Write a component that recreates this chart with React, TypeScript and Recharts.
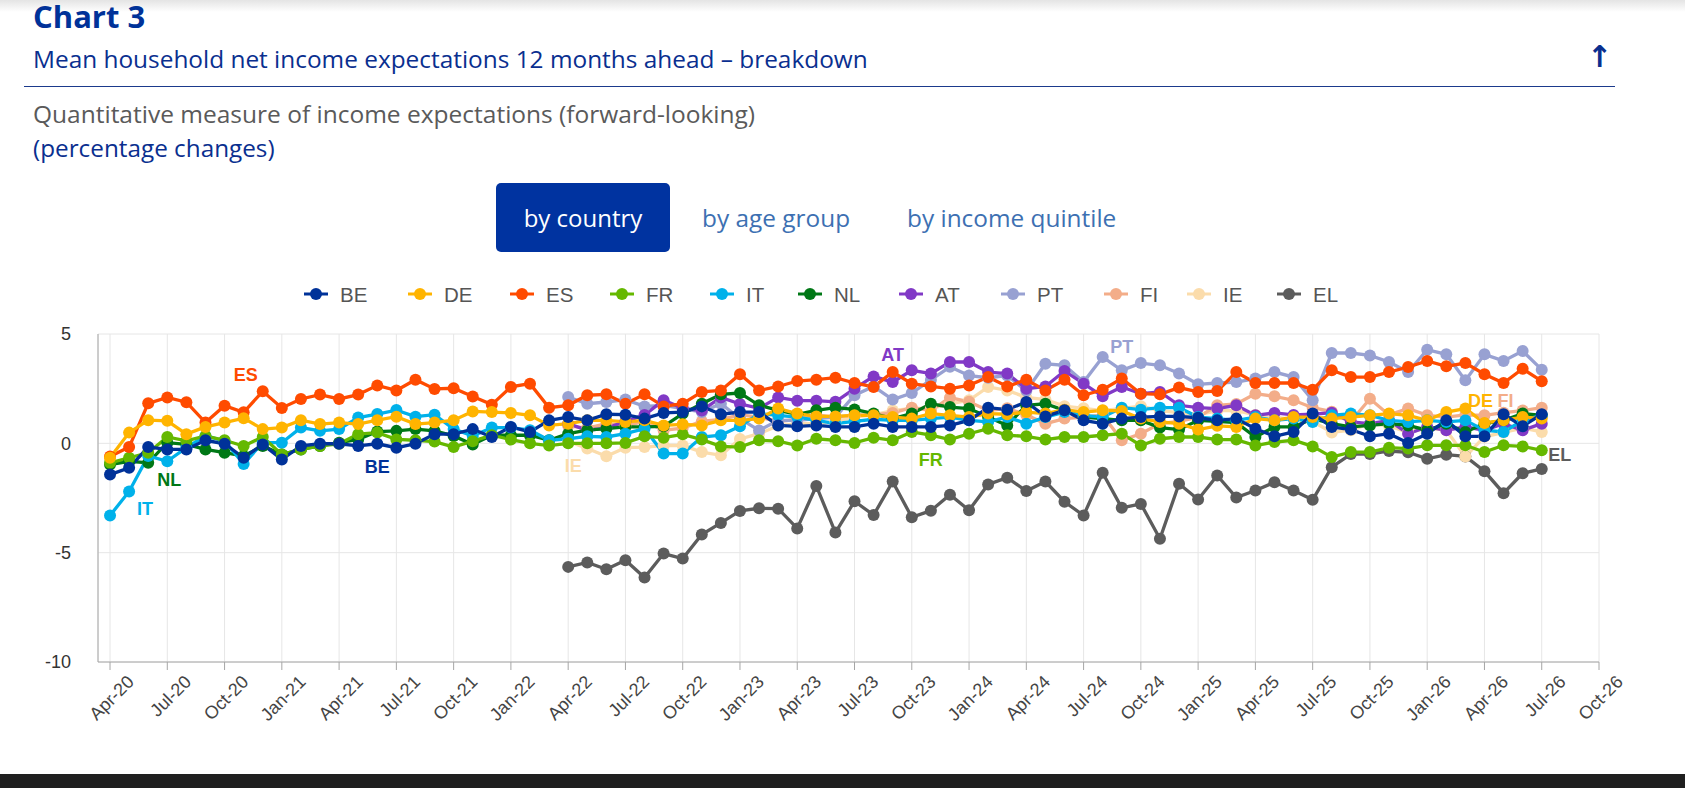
import React from "react";
import { LineChart, Line, XAxis, YAxis, CartesianGrid, LabelList } from "recharts";

// quarter tick labels, one every 3 months starting Apr-20 (month index 0)
const tickLabels = [
  "Apr-20", "Jul-20", "Oct-20", "Jan-21", "Apr-21", "Jul-21", "Oct-21", "Jan-22", "Apr-22",
  "Jul-22", "Oct-22", "Jan-23", "Apr-23", "Jul-23", "Oct-23", "Jan-24", "Apr-24", "Jul-24",
  "Oct-24", "Jan-25", "Apr-25", "Jul-25", "Oct-25", "Jan-26", "Apr-26", "Jul-26", "Oct-26",
];
const tickPositions = tickLabels.map((_, k) => k * 3);
const yTicks = [-10, -5, 0, 5];

// monthly values, Apr-20 .. Jul-26 (76 months)
const BE = [
  -1.43, -1.12, -0.17, -0.28, -0.28, 0.14, -0.02, -0.66, -0.05, -0.74, -0.12, -0.02, -0.02, -0.12, -0.02, -0.2,
  -0.02, 0.42, 0.42, 0.65, 0.29, 0.75, 0.52, 1.05, 1.2, 1.05, 1.33, 1.31, 1.13, 1.39, 1.43, 1.69,
  1.33, 1.43, 1.43, 0.82, 0.78, 0.82, 0.75, 0.75, 0.9, 0.75, 0.75, 0.75, 0.82, 1.05, 1.63, 1.54,
  1.89, 1.23, 1.51, 1.05, 0.9, 1.13, 1.2, 1.23, 1.23, 1.17, 1.05, 1.13, 0.67, 0.32, 0.52, 1.36,
  0.75, 0.63, 0.32, 0.44, 0.02, 0.44, 1.05, 0.32, 0.32, 1.33, 0.78, 1.33,
];
const DE = [
  -0.66, 0.49, 1.06, 1.03, 0.42, 0.75, 0.95, 1.15, 0.65, 0.72, 1.06, 0.88, 0.95, 0.88, 1.06, 1.22,
  0.88, 0.95, 1.06, 1.46, 1.43, 1.39, 1.28, 0.82, 0.9, 1.05, 1.05, 0.98, 1.05, 0.82, 0.87, 0.82,
  1.05, 1.05, 1.13, 1.59, 1.36, 1.23, 1.23, 1.28, 1.28, 1.2, 1.13, 1.36, 1.28, 1.2, 1.36, 1.33,
  1.43, 1.36, 1.54, 1.43, 1.51, 1.48, 1.13, 0.98, 0.9, 0.63, 0.8, 0.75, 1.13, 1.05, 1.2, 1.2,
  1.13, 1.2, 1.28, 1.36, 1.28, 1.05, 1.43, 1.59, 0.93, 1.05, 1.2, 1.13,
];
const ES = [
  -0.6, -0.17, 1.83, 2.1, 1.88, 0.95, 1.72, 1.42, 2.38, 1.62, 2.03, 2.23, 2.03, 2.23, 2.65, 2.42,
  2.91, 2.49, 2.52, 2.14, 1.77, 2.58, 2.73, 1.63, 1.74, 2.2, 2.24, 1.81, 2.24, 1.69, 1.81, 2.35,
  2.42, 3.16, 2.42, 2.6, 2.85, 2.91, 3.0, 2.76, 2.58, 3.26, 2.73, 2.6, 2.5, 2.65, 3.03, 2.6,
  2.91, 2.42, 2.91, 2.2, 2.45, 2.96, 2.27, 2.24, 2.55, 2.35, 2.39, 3.26, 2.76, 2.76, 2.76, 2.45,
  3.34, 3.03, 3.03, 3.26, 3.49, 3.77, 3.52, 3.67, 3.16, 2.76, 3.41, 2.84,
];
const FR = [
  -0.89, -0.66, -0.43, 0.29, 0.11, 0.34, 0.14, -0.12, 0.29, -0.51, -0.28, -0.12, -0.02, 0.42, 0.49, 0.18,
  0.14, 0.08, -0.17, 0.1, 0.37, 0.17, 0.0, -0.1, 0.0, 0.0, 0.0, 0.02, 0.32, 0.26, 0.41, 0.17,
  -0.14, -0.17, 0.14, 0.1, -0.1, 0.21, 0.14, 0.02, 0.26, 0.14, 0.52, 0.37, 0.17, 0.44, 0.67, 0.37,
  0.32, 0.17, 0.29, 0.29, 0.37, 0.44, -0.1, 0.21, 0.29, 0.29, 0.17, 0.17, -0.1, 0.06, 0.14, -0.14,
  -0.63, -0.4, -0.4, -0.2, -0.24, -0.09, -0.09, -0.09, -0.4, -0.09, -0.14, -0.32,
];
const IT = [
  -3.3, -2.2, -0.58, -0.82, -0.2, 0.34, 0.11, -0.94, 0.03, 0.03, 0.72, 0.57, 0.65, 1.18, 1.34, 1.52,
  1.22, 1.31, 0.65, 0.34, 0.72, 0.72, 0.6, 0.14, 0.21, 0.32, 0.29, 0.44, 0.67, -0.47, -0.47, 0.29,
  0.37, 0.78, 1.36, 1.28, 1.2, 1.05, 0.9, 1.0, 1.1, 1.05, 1.05, 1.13, 1.2, 1.05, 0.98, 1.2,
  0.9, 1.2, 1.43, 1.28, 1.2, 1.63, 1.54, 1.63, 1.63, 1.2, 1.13, 1.05, 1.2, 1.05, 1.13, 0.98,
  1.28, 1.36, 1.28, 1.05, 0.98, 1.05, 0.98, 1.05, 0.6, 0.52, 1.05, 1.28,
];
const NL = [
  -0.97, -0.82, -0.89, 0.03, -0.05, -0.28, -0.43, -0.58, -0.12, -0.51, -0.28, -0.12, 0.03, 0.18, 0.54, 0.57,
  0.65, 0.57, 0.34, -0.05, 0.37, 0.37, 0.37, 0.14, 0.44, 0.6, 0.67, 0.75, 0.75, 0.78, 1.36, 1.81,
  2.24, 2.3, 1.74, 1.51, 1.33, 1.51, 1.63, 1.55, 1.36, 1.13, 1.36, 1.81, 1.66, 1.59, 1.2, 0.82,
  1.74, 1.81, 1.51, 1.2, 1.13, 1.05, 1.05, 0.72, 0.63, 1.05, 1.0, 0.95, 0.29, 0.75, 0.75, 1.13,
  0.9, 0.75, 0.82, 0.9, 0.82, 0.6, 0.9, 0.52, 0.9, 1.05, 1.36, 1.28,
];
// series that start in Apr-22
const noData = [
  null, null, null, null, null, null, null, null, null, null, null, null,
  null, null, null, null, null, null, null, null, null, null, null, null,
];
const AT = [
  ...noData,
  0.9, 0.6, 0.7, 1.0, 1.3, 1.97, 1.6, 1.5, 2.1, 1.8, 1.6, 2.1, 1.95, 1.95, 1.9, 2.5,
  3.06, 2.8, 3.34, 3.19, 3.72, 3.72, 3.26, 3.19, 2.5, 2.6, 3.31, 2.73, 2.15, 2.58, 2.27, 2.35,
  1.74, 1.63, 1.59, 1.74, 1.28, 1.39, 1.3, 1.33, 1.4, 0.98, 0.9, 1.05, 0.44, 0.75, 0.6, 0.75,
  0.6, 0.9, 0.6, 0.9,
];
const PT = [
  ...noData,
  2.12, 1.81, 1.89, 2.0, 1.69, 1.74, 1.59, 1.43, 1.81, 1.13, 0.59, 1.05, 1.05, 1.13, 1.2, 2.2,
  2.6, 2.0, 2.3, 2.9, 3.5, 3.1, 3.0, 3.1, 2.4, 3.64, 3.57, 2.8, 3.95, 3.34, 3.67, 3.57,
  3.19, 2.7, 2.76, 2.8, 2.96, 3.26, 3.03, 1.97, 4.13, 4.13, 4.02, 3.72, 3.26, 4.28, 4.07, 2.88,
  4.07, 3.77, 4.22, 3.37,
];
const FI = [
  ...noData,
  0.8, 0.7, 0.9, 0.8, 1.0, 0.6, 0.7, 1.0, 1.1, 1.3, 1.2, 1.0, 1.1, 1.3, 1.2, 1.3,
  1.3, 1.39, 1.63, 1.5, 2.09, 1.9, 1.5, 1.6, 1.3, 0.9, 1.13, 1.2, 1.3, 0.14, 0.44, 0.9,
  1.0, 1.2, 1.74, 1.8, 2.27, 2.15, 1.97, 1.63, 1.45, 1.0, 2.04, 1.3, 1.59, 1.28, 1.2, 1.3,
  1.28, 1.4, 1.5, 1.63,
];
const IE = [
  ...noData,
  0.1, -0.24, -0.59, -0.2, -0.17, -0.1, -0.1, -0.4, -0.55, 0.2, 0.44, 0.8, 0.9, 0.9, 1.0, 1.2,
  1.3, 1.5, 1.6, 1.6, 1.8, 1.97, 2.58, 2.42, 2.1, 2.0, 1.7, 1.6, 1.5, 1.6, 1.7, 1.5,
  1.4, 1.3, 1.5, 1.5, 1.3, 1.2, 1.1, 1.0, 0.5, 0.6, 0.9, 0.8, 0.5, 0.7, 0.6, -0.6,
  0.3, 0.5, 0.7, 0.52,
];
const EL = [
  ...noData,
  -5.65, -5.45, -5.76, -5.35, -6.14, -5.04, -5.27, -4.17, -3.64, -3.09, -2.97, -2.99, -3.89, -1.95, -4.08, -2.65,
  -3.28, -1.75, -3.38, -3.08, -2.35, -3.06, -1.88, -1.57, -2.18, -1.75, -2.67, -3.3, -1.35, -2.95, -2.77, -4.36,
  -1.85, -2.57, -1.47, -2.48, -2.16, -1.78, -2.16, -2.58, -1.09, -0.49, -0.49, -0.35, -0.41, -0.71, -0.52, -0.6,
  -1.28, -2.28, -1.37, -1.17,
];

const seriesValues: Record<string, (number | null)[]> = { BE, DE, ES, FR, IT, NL, AT, PT, FI, IE, EL };

const series = [
  { key: "BE", color: "#003299", labelAt: 14, dx: 0, dy: 23 },
  { key: "DE", color: "#ffb400", labelAt: 72, dx: -4, dy: -22 },
  { key: "ES", color: "#ff4b00", labelAt: 8, dx: -17, dy: -16 },
  { key: "FR", color: "#65b800", labelAt: 43, dx: 0, dy: 25 },
  { key: "IT", color: "#00b1ea", labelAt: 1, dx: 16, dy: 18 },
  { key: "NL", color: "#007816", labelAt: 2, dx: 21, dy: 17 },
  { key: "AT", color: "#8139c6", labelAt: 41, dx: 0, dy: -27 },
  { key: "PT", color: "#98a1d2", labelAt: 53, dx: 0, dy: -23 },
  { key: "FI", color: "#f3ad89", labelAt: 73, dx: 2, dy: -12 },
  { key: "IE", color: "#fbdcab", labelAt: 24, dx: 5, dy: 25 },
  { key: "EL", color: "#5c5c5c", labelAt: 75, dx: 18, dy: -14 },
];

const legendX = [316, 420, 522, 622, 722, 810, 911, 1013, 1116, 1199, 1289];

const data = BE.map((_, i) => {
  const row: Record<string, number | null> = { i };
  series.forEach((s) => {
    row[s.key] = seriesValues[s.key][i];
  });
  return row;
});

const axisFont = '"Liberation Sans", Arial, sans-serif';

const XTick = (props: any) => {
  const { x, y, payload } = props;
  const label = tickLabels[Math.round(payload.value / 3)];
  const px = x + 25;
  const py = y + 13;
  return (
    <text x={px} y={py} transform={`rotate(-45 ${px} ${py})`} textAnchor="end" fontSize={18} fill="#444" fontFamily={axisFont}>
      {label}
    </text>
  );
};

const makeLabel = (s: (typeof series)[number]) => (props: any) => {
  const { x, y, index } = props;
  if (index !== s.labelAt || x == null || y == null) return null;
  return (
    <text x={x + s.dx} y={y + s.dy} textAnchor="middle" dominantBaseline="central" fill={s.color}
      fontSize={18} fontWeight={700} fontFamily={axisFont}>
      {s.key}
    </text>
  );
};

const App: React.FC = () => {
  const drawOrder = [...series].reverse();
  return (
    <div style={{ position: "absolute", left: 0, top: 0, width: 1685, height: 788, background: "#fff", overflow: "hidden", fontFamily: '"Open Sans", sans-serif' }}>
      <div style={{ position: "absolute", left: 0, top: 0, width: 1685, height: 12, background: "linear-gradient(#e4e4e4, #ffffff)" }} />
      <div style={{ position: "absolute", left: 33, top: 1, fontSize: 31, lineHeight: "31px", fontWeight: 700, color: "#003299" }}>Chart 3</div>
      <div style={{ position: "absolute", left: 33, top: 46, fontSize: 24.4, lineHeight: "25px", color: "#0a2f8f" }}>
        Mean household net income expectations 12 months ahead – breakdown
      </div>
      <div style={{ position: "absolute", left: 1587, top: 42, fontSize: 30, lineHeight: "30px", fontWeight: 700, color: "#0a2f8f", fontFamily: '"DejaVu Sans", sans-serif' }}>↑</div>
      <div style={{ position: "absolute", left: 24, top: 86, width: 1591, height: 1, background: "#1b3a8c" }} />
      <div style={{ position: "absolute", left: 33, top: 101, fontSize: 24.5, lineHeight: "25px", color: "#5a5a5a" }}>
        Quantitative measure of income expectations (forward-looking)
      </div>
      <div style={{ position: "absolute", left: 33, top: 135, fontSize: 24.3, lineHeight: "25px", color: "#0a2f8f" }}>(percentage changes)</div>

      <div style={{ position: "absolute", left: 496, top: 183, width: 174, height: 69, borderRadius: 5, background: "#0033a0", color: "#fff", fontSize: 24, display: "flex", alignItems: "center", justifyContent: "center" }}>
        by country
      </div>
      <div style={{ position: "absolute", left: 702, top: 183, height: 69, fontSize: 24.4, color: "#3d70b2", display: "flex", alignItems: "center" }}>by age group</div>
      <div style={{ position: "absolute", left: 907, top: 183, height: 69, fontSize: 24.4, color: "#3d70b2", display: "flex", alignItems: "center" }}>by income quintile</div>

      <svg style={{ position: "absolute", left: 0, top: 279 }} width={1685} height={30}>
        {series.map((s, k) => (
          <g key={s.key}>
            <line x1={legendX[k] - 12} x2={legendX[k] + 12} y1={15} y2={15} stroke={s.color} strokeWidth={3} />
            <circle cx={legendX[k]} cy={15} r={6} fill={s.color} />
            <text x={legendX[k] + 24} y={15} dominantBaseline="central" fontSize={20.5} fill="#555" fontFamily={axisFont}>{s.key}</text>
          </g>
        ))}
      </svg>

      <div style={{ position: "absolute", left: 0, top: 300 }}>
        <LineChart width={1685} height={460} data={data} margin={{ top: 34, right: 86, bottom: 38, left: 38 }}>
          <CartesianGrid stroke="#e6e6e6" />
          <XAxis type="number" dataKey="i" domain={[-0.63, 78]} ticks={tickPositions} interval={0} allowDataOverflow
            tick={<XTick />} tickSize={8} tickMargin={0} height={60} stroke="#a6a6a6" tickLine={{ stroke: "#a6a6a6" }} />
          <YAxis type="number" domain={[-10, 5]} ticks={yTicks} interval={0} width={60} tickLine={false} tickSize={0} tickMargin={27}
            axisLine={{ stroke: "#a6a6a6" }} tick={{ fontSize: 18, fill: "#333", fontFamily: axisFont }} />
          {drawOrder.map((s) => (
            <Line key={s.key} type="linear" dataKey={s.key} stroke={s.color} strokeWidth={3.3}
              dot={{ r: 6, fill: s.color, stroke: s.color, strokeWidth: 0 }} activeDot={false}
              isAnimationActive={false} connectNulls={false}>
              <LabelList dataKey={s.key} content={makeLabel(s)} />
            </Line>
          ))}
        </LineChart>
      </div>

      <div style={{ position: "absolute", left: 0, top: 774, width: 1685, height: 14, background: "#1f1f1f" }} />
    </div>
  );
};

export default App;
